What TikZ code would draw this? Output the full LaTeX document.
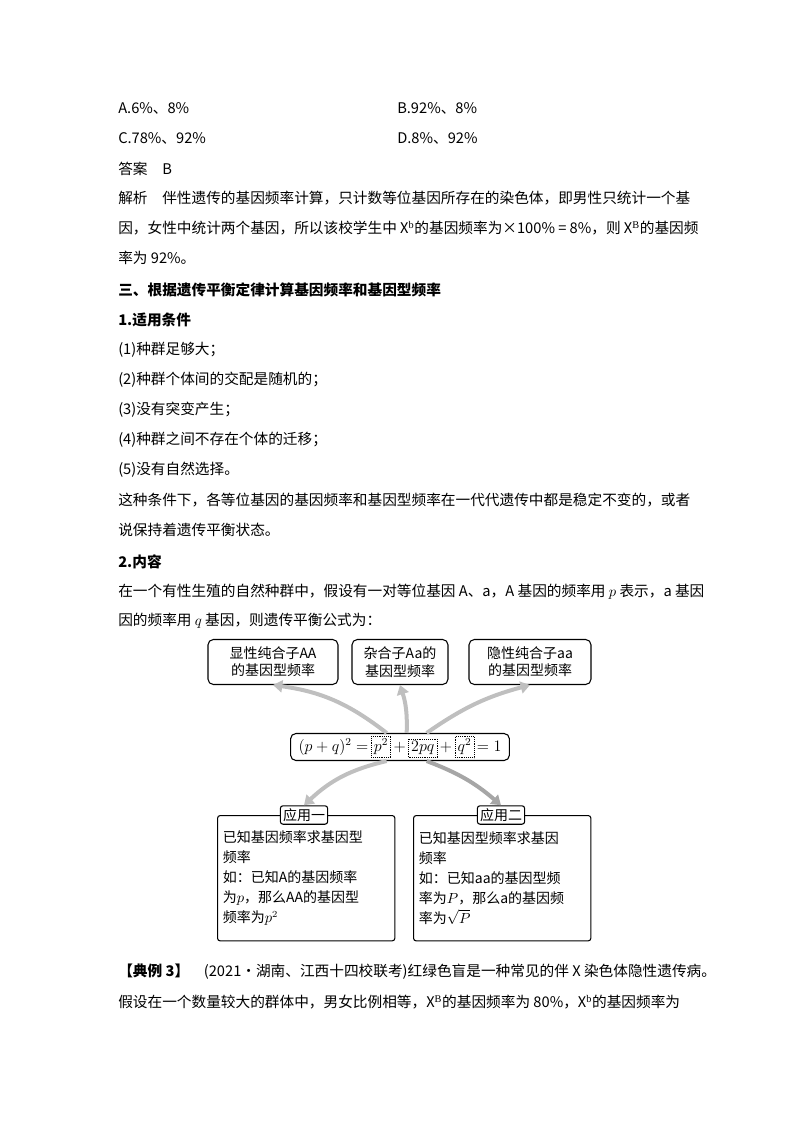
\documentclass[tikz,border=0pt]{standalone}
\usepackage{fontspec}
\setmainfont{Liberation Serif}
\newfontfamily\cjk{Noto Sans CJK SC}
\usetikzlibrary{arrows.meta,positioning}

\tikzset{
  line/.style={anchor=west, inner sep=0pt, font=\cjk\fontsize{11}{13}\selectfont},
  box/.style={draw, rounded corners=4pt, thick, align=center, inner sep=2pt, font=\cjk\fontsize{10.5}{13}\selectfont},
  appbox/.style={draw, rounded corners=2pt, thick, align=left, anchor=north west, text width=125pt, minimum height=94pt, inner sep=4pt, font=\cjk\fontsize{10.5}{15}\selectfont},
  tagbox/.style={draw, fill=white, rounded corners=2pt, thick, inner sep=2pt, font=\cjk\fontsize{10.5}{12}\selectfont},
  dotbox/.style={draw, densely dotted, thin, rounded corners=0pt, minimum width=0pt, minimum height=0pt, inner sep=2pt, anchor=base},
  grayarrow/.style={-{Triangle[length=7pt,width=9pt]}, line width=3pt, draw=gray!50}
}
\newcommand{\dotterm}[1]{\tikz[baseline]\node[dotbox]{$#1$};}

\begin{document}
\begin{tikzpicture}[x=0.75pt, y=-0.75pt]

  %% Background
  \useasboundingbox (0,0) rectangle (800,1132);

  % Answers and explanation
  \node[line] (oa) at (118,108) {A.6\%、8\%};
  \node[line] (ob) at (397,108) {B.92\%、8\%};
  \node[line] (oc) at (118,138) {C.78\%、92\%};
  \node[line] (od) at (397,138) {D.8\%、92\%};
  \node[line] (ans) at (118,169) {答案\quad B};
  \node[line] (ex1) at (118,198) {解析\quad 伴性遗传的基因频率计算，只计数等位基因所存在的染色体，即男性只统计一个基};
  \node[line] (ex2) at (118,228) {因，女性中统计两个基因，所以该校学生中 X$^{\mathrm b}$的基因频率为×100\% = 8\%，则 X$^{\mathrm B}$的基因频};
  \node[line] (ex3) at (118,258) {率为 92\%。};

  % Section text
  \node[line] (sec) at (118,290) {\textbf{三、根据遗传平衡定律计算基因频率和基因型频率}};
  \node[line] (s1) at (118,320) {\textbf{1.适用条件}};
  \node[line] (c1) at (118,350) {(1)种群足够大；};
  \node[line] (c2) at (118,380) {(2)种群个体间的交配是随机的；};
  \node[line] (c3) at (118,410) {(3)没有突变产生；};
  \node[line] (c4) at (118,440) {(4)种群之间不存在个体的迁移；};
  \node[line] (c5) at (118,470) {(5)没有自然选择。};
  \node[line] (p1) at (118,500) {这种条件下，各等位基因的基因频率和基因型频率在一代代遗传中都是稳定不变的，或者};
  \node[line] (p2) at (118,530) {说保持着遗传平衡状态。};
  \node[line] (s2) at (118,562) {\textbf{2.内容}};
  \node[line] (q1) at (118,592) {在一个有性生殖的自然种群中，假设有一对等位基因 A、a，A 基因的频率用 $p$ 表示，a 基因};
  \node[line] (q2) at (118,621) {因的频率用 $q$ 基因，则遗传平衡公式为：};

  % Diagram: top boxes
  \node[box, minimum width=130pt*0.75, minimum height=45pt*0.75] (dom) at (273,662) {显性纯合子AA\\的基因型频率};
  \node[box, minimum width=96pt*0.75, minimum height=45pt*0.75] (het) at (400,662) {杂合子Aa的\\基因型频率};
  \node[box, minimum width=122pt*0.75, minimum height=45pt*0.75] (rec) at (530,662) {隐性纯合子aa\\的基因型频率};

  % Formula
  \node[box, inner xsep=6pt, minimum height=25pt*0.75, font=\fontsize{11.5}{13}\selectfont] (eq) at (400,747)
    {$(p+q)^2=$\,\dotterm{p^2}\,$+$\,\dotterm{2pq}\,$+$\,\dotterm{q^2}\,$=1$};

  % Bottom boxes
  \node[appbox] (app1) at (217,815) {已知基因频率求基因型\\频率\\如：已知A的基因频率\\为$p$，那么AA的基因型\\频率为$p^2$};
  \node[appbox] (app2) at (413,815) {已知基因型频率求基因\\频率\\如：已知aa的基因型频\\率为$P$，那么a的基因频\\率为$\sqrt{P}$};
  \node[tagbox] (tag1) at (304,815) {应用一};
  \node[tagbox] (tag2) at (501,815) {应用二};

  % Arrows
  \draw[grayarrow] ([xshift=-10pt]eq.north) to[bend right=15] (dom.south);
  \draw[grayarrow] ([xshift=5pt]eq.north) to[bend right=10] (het.south);
  \draw[grayarrow] ([xshift=20pt]eq.north) to[bend left=10] (rec.south);
  \draw[grayarrow] ([xshift=-10pt]eq.south) to[bend right=15] (tag1.north);
  \draw[grayarrow, draw=gray!70] ([xshift=20pt]eq.south) to[bend left=10] (tag2.north);

  % Example line
  \node[line] (ex) at (118,972) {\textbf{【典例 3】}\quad (2021·湖南、江西十四校联考)红绿色盲是一种常见的伴 X 染色体隐性遗传病。};
  \node[line] (ex4) at (118,1002) {假设在一个数量较大的群体中，男女比例相等，X$^{\mathrm B}$的基因频率为 80\%，X$^{\mathrm b}$的基因频率为};

\end{tikzpicture}
\end{document}
